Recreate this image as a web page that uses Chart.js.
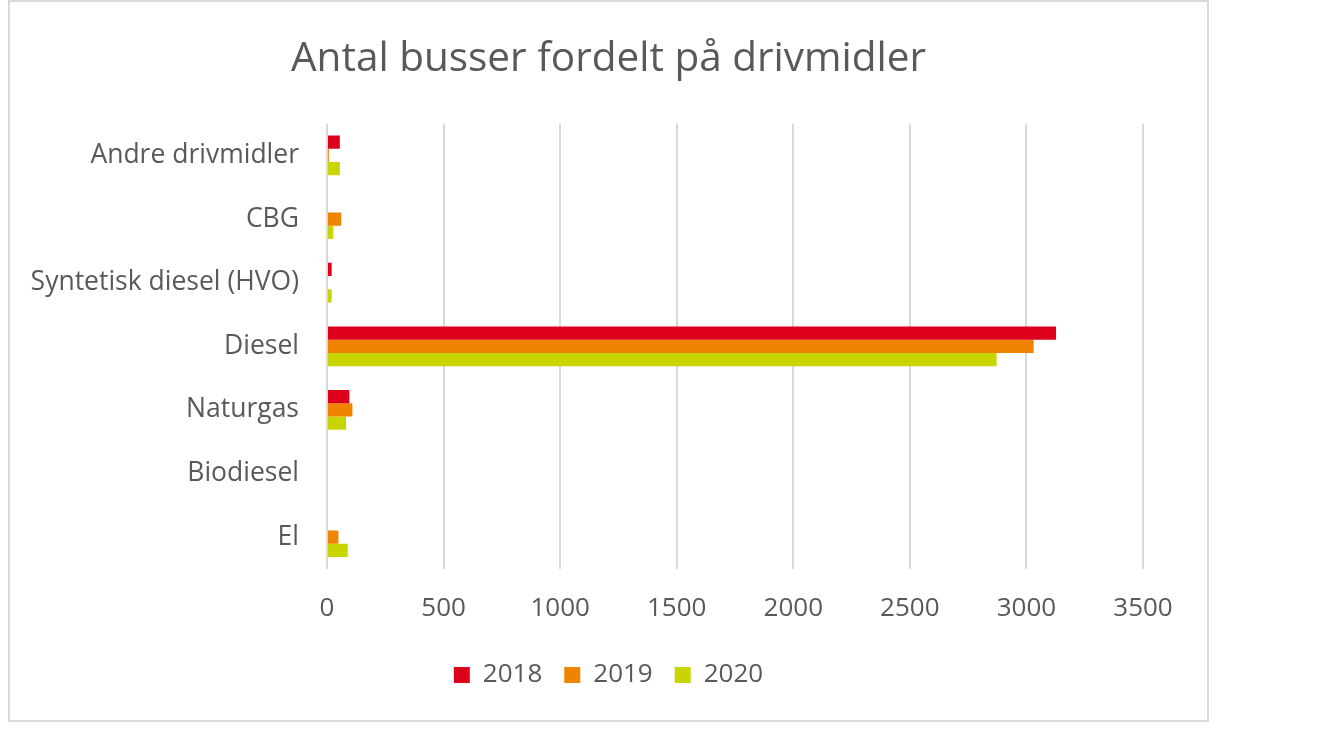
<!DOCTYPE html>
<html>
<head>
<meta charset="utf-8">
<script src="https://cdn.jsdelivr.net/npm/chart.js@4.4.1/dist/chart.umd.min.js"></script>
<style>
  html, body { margin: 0; padding: 0; background: #ffffff; }
  #frame {
    position: absolute; left: 8px; top: 0px;
    width: 1197px; height: 718px;
    border: 2px solid #d9d9d9;
  }
  #wrap { position: relative; width: 1197px; height: 718px; }
</style>
</head>
<body>
<div id="frame"><div id="wrap"><canvas id="chart"></canvas></div></div>
<script>
// Antal busser fordelt på drivmidler — horizontal grouped bars

const categories = ['Andre drivmidler', 'CBG', 'Syntetisk diesel (HVO)', 'Diesel', 'Naturgas', 'Biodiesel', 'El'];
const years = ['2018', '2019', '2020'];
const values2018 = [55, 0, 20, 3127, 96, 0, 0];
const values2019 = [8, 61, 0, 3031, 109, 0, 49];
const values2020 = [55, 27, 20, 2872, 82, 0, 89];
const xTicks = [0, 500, 1000, 1500, 2000, 2500, 3000, 3500];

const COLORS = ['#dc001b', '#f08300', '#c9d500'];
const TEXT = '#595959';
const GRID = '#d9d9d9';
const FONT = "'Open Sans', sans-serif";

Chart.defaults.color = TEXT;
Chart.defaults.font.family = FONT;

const series = [values2018, values2019, values2020];

// y labels are wider than the padded axis box; widen its clip area to the canvas edge
const widenLabelClip = {
  id: 'widenLabelClip',
  afterLayout(chart) { chart.scales.y.left = 0; }
};

new Chart(document.getElementById('chart').getContext('2d'), {
  type: 'bar',
  data: {
    labels: categories,
    datasets: years.map((y, i) => ({
      label: y,
      data: series[i],
      backgroundColor: COLORS[i],
      borderWidth: 0,
      categoryPercentage: 0.625,
      barPercentage: 1
    }))
  },
  plugins: [widenLabelClip],
  options: {
    indexAxis: 'y',
    responsive: true,
    maintainAspectRatio: false,
    animation: false,
    // symmetric padding keeps title and legend centred on the frame
    layout: { padding: { left: 64, right: 64, top: 0, bottom: 22 } },
    plugins: {
      title: {
        display: true,
        text: 'Antal busser fordelt på drivmidler',
        color: TEXT,
        font: { size: 40.5, weight: 'normal' },
        padding: { top: 33, bottom: 40 }
      },
      legend: {
        position: 'bottom',
        labels: {
          boxWidth: 16,
          boxHeight: 16,
          padding: 22,
          color: TEXT,
          font: { size: 26 }
        }
      },
      tooltip: { enabled: false }
    },
    scales: {
      x: {
        min: 0,
        max: 3500,
        afterBuildTicks: s => { s.ticks = xTicks.map(v => ({ value: v })); },
        afterFit: s => { s.height = 71; },
        grid: { color: GRID, lineWidth: 2, drawTicks: false },
        border: { display: false },
        ticks: { padding: 24, font: { size: 26 }, color: TEXT, callback: v => String(v) }
      },
      y: {
        afterFit: s => { s.width = 253; },
        grid: { display: false, drawTicks: false },
        border: { display: false },
        ticks: { padding: 28, font: { size: 26.5 }, color: TEXT }
      }
    }
  }
});
</script>
</body>
</html>
